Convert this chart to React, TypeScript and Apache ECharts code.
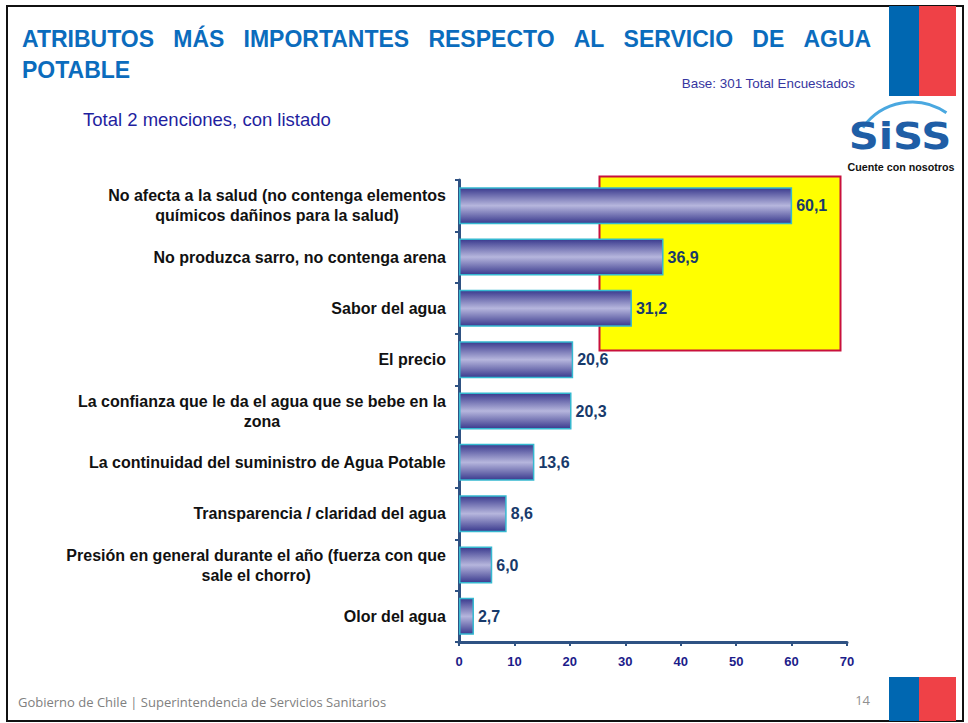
import React, { useEffect, useRef } from "react";
import * as echarts from "echarts";

const categories = [
  "No afecta a la salud (no contenga elementos\nquímicos dañinos para la salud)",
  "No produzca sarro, no contenga arena",
  "Sabor del agua",
  "El precio",
  "La confianza que le da el agua que se bebe en la\nzona",
  "La continuidad del suministro de Agua Potable",
  "Transparencia / claridad del agua",
  "Presión en general durante el año (fuerza con que\nsale el chorro)",
  "Olor del agua",
];
const values = [60.1, 36.9, 31.2, 20.6, 20.3, 13.6, 8.6, 6.0, 2.7];
const xTicks = { min: 0, max: 70, interval: 10 };

const titleLine1 = "ATRIBUTOS MÁS IMPORTANTES RESPECTO AL SERVICIO DE AGUA";
const titleLine2 = "POTABLE";
const baseText = "Base: 301 Total Encuestados";
const subtitle = "Total 2 menciones, con listado";
const footer = "Gobierno de Chile | Superintendencia de Servicios Sanitarios";
const pageNum = "14";

const FONT = "'Liberation Sans', Arial, sans-serif";

export default function App() {
  const ref = useRef<HTMLDivElement>(null);
  useEffect(() => {
    if (!ref.current) return;
    const chart = echarts.init(ref.current, undefined, { renderer: "svg" });
    const blue = "#0067b1";
    const red = "#ef4147";
    const titleColor = "#0b6cbd";
    const justifiedTitle = titleLine1
      .split(" ")
      .map((w) => "{w|" + w + "}")
      .join("{g| }");
    const option: any = {
      animation: false,
      backgroundColor: "#ffffff",
      grid: { left: 459, right: 121, top: 180, bottom: 81, containLabel: false },
      xAxis: {
        type: "value",
        min: xTicks.min,
        max: xTicks.max,
        interval: xTicks.interval,
        splitLine: { show: false },
        axisLine: { show: true, lineStyle: { color: "#2f5283", width: 3 } },
        axisTick: { show: true, length: 4, lineStyle: { color: "#2f5283", width: 2 } },
        axisLabel: {
          margin: 13,
          color: "#1c1c8a",
          fontFamily: FONT,
          fontWeight: "bold",
          fontSize: 13,
        },
      },
      yAxis: {
        type: "category",
        inverse: true,
        data: categories,
        axisLine: { show: true, lineStyle: { color: "#2f5283", width: 3 } },
        axisTick: { show: true, length: 4, lineStyle: { color: "#2f5283", width: 2 } },
        axisLabel: {
          margin: 13,
          color: "#111111",
          fontFamily: FONT,
          fontWeight: "bold",
          fontSize: 16,
          lineHeight: 20,
          formatter: (v: string) =>
            v
              .split("\n")
              .map((l) => "{c|" + l + "}")
              .join("\n"),
          rich: {
            c: {
              align: "center",
              color: "#111111",
              fontFamily: FONT,
              fontWeight: "bold",
              fontSize: 16,
              lineHeight: 20,
            },
          },
        },
      },
      series: [
        {
          type: "bar",
          data: values,
          barWidth: 37,
          z: 5,
          itemStyle: {
            color: new echarts.graphic.LinearGradient(0, 0, 0, 1, [
              { offset: 0, color: "#3a3a8e" },
              { offset: 0.5, color: "#b6b6dd" },
              { offset: 1, color: "#3a3a8e" },
            ]),
            borderColor: "#35b8d0",
            borderWidth: 1.5,
          },
          label: {
            show: true,
            position: "right",
            distance: 4,
            color: "#183a6b",
            fontFamily: FONT,
            fontWeight: "bold",
            fontSize: 16,
            formatter: (p: any) => p.value.toFixed(1).replace(".", ","),
          },
        },
      ],
      graphic: [
        { type: "rect", z: 0, shape: { x: 7, y: 6, width: 956, height: 715 }, style: { fill: "none", stroke: "#111", lineWidth: 2 } },
        { type: "rect", z: 1, shape: { x: 889, y: 6, width: 30, height: 90 }, style: { fill: blue } },
        { type: "rect", z: 1, shape: { x: 919, y: 6, width: 37, height: 90 }, style: { fill: red } },
        { type: "rect", z: 1, shape: { x: 889, y: 677, width: 30, height: 44 }, style: { fill: blue } },
        { type: "rect", z: 1, shape: { x: 919, y: 677, width: 37, height: 44 }, style: { fill: red } },
        { type: "rect", z: 1, shape: { x: 599.5, y: 176.5, width: 241, height: 174 }, style: { fill: "#ffff00", stroke: "#c8103c", lineWidth: 2 } },
        {
          type: "text", z: 3, x: 22, y: 27,
          style: {
            text: justifiedTitle,
            fill: titleColor,
            font: "bold 23px " + FONT,
            rich: {
              w: { fill: titleColor, font: "bold 23px " + FONT },
              g: { fill: titleColor, font: "bold 23px " + FONT, width: 19.2 },
            },
          },
        },
        {
          type: "text", z: 3, x: 22, y: 58,
          style: { text: titleLine2, fill: titleColor, font: "bold 23px " + FONT },
        },
        {
          type: "text", z: 3, x: 855, y: 83,
          style: { text: baseText, fill: "#3636a0", font: "13.4px " + FONT, align: "right", verticalAlign: "middle" },
        },
        {
          type: "text", z: 3, x: 83, y: 119,
          style: { text: subtitle, fill: "#1f1fa0", font: "18.5px " + FONT, verticalAlign: "middle" },
        },
        {
          type: "arc", z: 3,
          shape: { cx: 912, cy: 162, r: 60, startAngle: (215 * Math.PI) / 180, endAngle: (305 * Math.PI) / 180, clockwise: true },
          style: { stroke: "#4aa8e0", lineWidth: 3, fill: "none" },
        },
        {
          type: "text", z: 3, x: 900, y: 136, scaleX: 1.1,
          style: {
            text: "SiSS",
            fill: "#1f5ea6",
            font: "bold 38px 'DejaVu Sans', sans-serif",
            align: "center",
            verticalAlign: "middle",
          },
        },
        {
          type: "text", z: 3, x: 901, y: 167,
          style: { text: "Cuente con nosotros", fill: "#111", font: "bold 10.7px " + FONT, align: "center", verticalAlign: "middle" },
        },
        {
          type: "text", z: 3, x: 18, y: 702,
          style: { text: footer, fill: "#808080", font: "13px 'Open Sans', sans-serif", verticalAlign: "middle" },
        },
        {
          type: "text", z: 3, x: 870, y: 700,
          style: { text: pageNum, fill: "#909090", font: "13px 'Open Sans', sans-serif", align: "right", verticalAlign: "middle" },
        },
      ],
    };
    chart.setOption(option);
    return () => chart.dispose();
  }, []);
  return (
    <div
      ref={ref}
      style={{ position: "absolute", left: 0, top: 0, width: 968, height: 723 }}
    />
  );
}
